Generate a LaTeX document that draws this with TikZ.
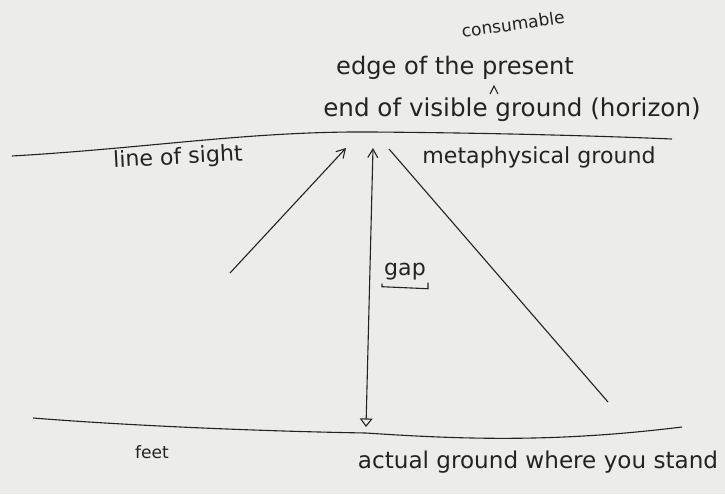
\documentclass[tikz,border=0pt]{standalone}
\usepackage{fontspec}
\setmainfont{DejaVu Sans}
\usetikzlibrary{arrows.meta}
\definecolor{board}{RGB}{236,236,235}
\definecolor{ink}{RGB}{35,35,35}

\begin{document}
\begin{tikzpicture}[
        x=0.035cm, y=-0.035cm,
        line/.style  = {draw=ink, line width=1.1pt},
        arrow/.style = {line, -{Straight Barb[length=3mm, width=3.5mm]}},
        hand/.style  = {text=ink, inner sep=0pt, font=\fontsize{22}{24}\selectfont},
        small/.style = {hand, font=\fontsize{17}{19}\selectfont},
    ]
    \fill[board] (0,0) rectangle (725,494);
    \useasboundingbox (0,0) rectangle (725,494);
    % horizon and ground
    \coordinate (hl) at (12,156);
    \coordinate (hr) at (672,139);
    \coordinate (gl) at (33,418);
    \coordinate (gr) at (682,427);
    \draw[line] (hl) .. controls (150,148) and (250,131) .. (372,132) .. controls (500,133) and (600,136) .. (hr);
    \draw[line] (gl) .. controls (120,425) and (250,431) .. (366,433) .. controls (470,440) and (560,442) .. (gr);
    % lines of the cone
    \coordinate (lfoot) at (230,273);
    \coordinate (ltip)  at (346,148);
    \coordinate (vtop)  at (373,148);
    \coordinate (vbot)  at (366,427);
    \coordinate (rtop)  at (389,149);
    \coordinate (rfoot) at (608,402);
    \draw[arrow] (lfoot) -- (ltip);
    \draw[line, {Straight Barb[length=3mm, width=3.5mm]}-{Triangle[open, length=3mm, width=4.5mm]}] (vtop) -- (vbot);
    \draw[line] (rtop) -- (rfoot);
    % labels
    \node[small, rotate=8] (cons) at (513,24) {consumable};
    \node[hand, font=\fontsize{24}{26}\selectfont] (edge) at (455,68) {edge of the present};
    \node[hand, font=\fontsize{24.5}{26}\selectfont] (end) at (512,110) {end of visible ground (horizon)};
    \node[hand, rotate=3] (los) at (178,158) {line of sight};
    \node[hand] (meta) at (539,157) {metaphysical ground};
    \node[hand] (gap) at (405,272) {gap};
    \node[small] (feet) at (152,452) {feet};
    \node[hand, font=\fontsize{23}{25}\selectfont] (act) at (538,462) {actual ground where you stand};
    \draw[line] ([xshift=-2pt, yshift=-3pt]gap.south west) -- ++(0,-3pt) -- ([xshift=2pt, yshift=-8pt]gap.south east) -- ++(0,6pt);
    \draw[line] (490,94) -- (494,86) -- (498,94);
\end{tikzpicture}
\end{document}
